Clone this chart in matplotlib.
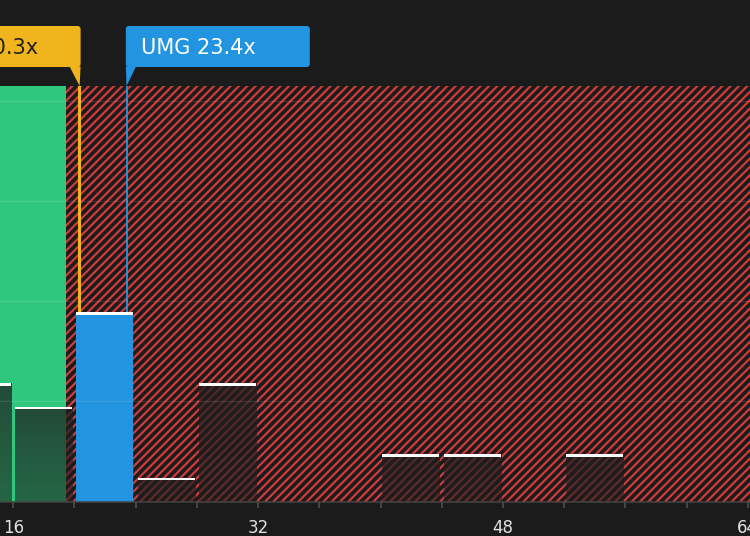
import numpy as np
import matplotlib
matplotlib.use("Agg")
import matplotlib.pyplot as plt
from matplotlib.patches import FancyBboxPatch, Polygon
from matplotlib.transforms import IdentityTransform

# ---- data ----
bin_edges = [12, 16, 20, 24, 28, 32, 36, 40, 44, 48, 52, 56, 60]
counts = [5, 4, 8, 1, 5, 0, 0, 2, 2, 0, 2, 0, 0]
bin_width = 4
company_pe = 23.4
avg_pe = 20.3
green_limit = 19.44
company_label = "UMG 23.4x"
avg_label = "Industry Avg 20.3x"
tick_positions = list(range(16, 65, 4))
labelled_ticks = [16, 32, 48, 64]
grid_levels = [4.23, 8.46, 12.69, 16.92]

# ---- style ----
BG = "#1b1b1b"
GREEN = "#2ec77d"
BLUE = "#2394df"
YELLOW = "#f0b41c"
RED = "#cf3b3b"
plt.rcParams["hatch.linewidth"] = 1.6
plt.rcParams["font.family"] = ["DejaVu Sans"]

W, H = 750, 536
fig = plt.figure(figsize=(W / 100, H / 100), dpi=100, facecolor=BG)
ax = fig.add_axes([0, 34.3 / H, 1, (501.7 - 86) / H])
ax.set_facecolor(BG)
xlim = (15.131, 64.15)
ylim = (0, 17.54)

# regions
ax.axvspan(0, green_limit, color=GREEN, lw=0, zorder=0.5)
ax.axvspan(green_limit, 100, facecolor="none", edgecolor=RED, hatch="////", lw=0, zorder=0.5)

# marker lines
ax.axvline(avg_pe, color=YELLOW, lw=2.2, zorder=1)
ax.axvline(company_pe, color=BLUE, lw=1.3, zorder=1)

# bars
gap = 0.12
bw = 3.73
cap = 0.105
alpha_grad = np.linspace(0.74, 0.57, 256)
for left, c in zip(bin_edges, counts):
    if c == 0:
        continue
    x0 = left + gap
    if left <= company_pe < left + bin_width:
        ax.bar(x0, c, width=bw, align="edge", color=BLUE, lw=0, zorder=1.5)
    else:
        img = np.zeros((256, 1, 4))
        img[..., :3] = 0.12
        img[:, 0, 3] = alpha_grad
        ax.imshow(img, extent=(x0, x0 + bw, 0, c), origin="upper",
                  aspect="auto", interpolation="bilinear", zorder=1.5)
    ax.bar(x0, cap, bottom=c - cap, width=bw, align="edge", color="white",
           lw=0, zorder=2)

ax.set_xlim(*xlim)
ax.set_ylim(*ylim)

# axes styling
ax.set_xticks(tick_positions)
ax.set_xticklabels([str(t) if t in labelled_ticks else "" for t in tick_positions])
ax.tick_params(axis="x", colors="#555555", length=4.5, width=1.1, labelsize=12,
               labelcolor="#e2e2e2", pad=8.2)
ax.set_yticks(grid_levels)
ax.tick_params(axis="y", length=0, labelleft=False)
ax.set_axisbelow(False)
ax.yaxis.grid(True, color="white", alpha=0.1, lw=1)
ax.xaxis.grid(False)
for s in ["top", "left", "right"]:
    ax.spines[s].set_visible(False)
ax.spines["bottom"].set_color("#444444")
ax.spines["bottom"].set_linewidth(1.1)
ax.spines["bottom"].set_zorder(3)

# labels (in pixel coords)
ident = IdentityTransform()
box_bot, box_top, tip = H - 67, H - 26, H - 86

px = ax.transData.transform((company_pe, 0))[0]
fig.add_artist(FancyBboxPatch((px - 0.7, box_bot), 184, box_top - box_bot,
                              boxstyle="round,pad=0,rounding_size=3",
                              fc=BLUE, ec="none", transform=ident))
fig.add_artist(Polygon([[px - 0.7, box_bot + 0.5], [px + 9.5, box_bot + 0.5], [px, tip]],
                       closed=True, fc=BLUE, ec="none", transform=ident))
fig.text(px + 14.5, H - 54, company_label, transform=ident, color="white",
         fontsize=15, ha="left", va="baseline")

py = ax.transData.transform((avg_pe, 0))[0]
fig.add_artist(FancyBboxPatch((py + 1.5 - 300, box_bot), 300, box_top - box_bot,
                              boxstyle="round,pad=0,rounding_size=3",
                              fc=YELLOW, ec="none", transform=ident))
fig.add_artist(Polygon([[py - 9.5, box_bot + 0.5], [py + 1.5, box_bot + 0.5], [py + 0.5, tip]],
                       closed=True, fc=YELLOW, ec="none", transform=ident))
fig.text(py - 41, H - 54.5, avg_label, transform=ident, color="#1f1f1f",
         fontsize=15, ha="right", va="baseline")

fig.savefig("out.png", dpi=100, facecolor=BG)
